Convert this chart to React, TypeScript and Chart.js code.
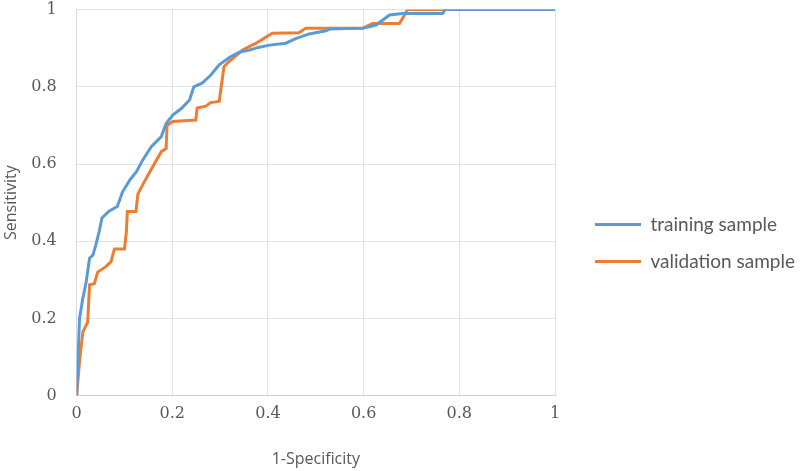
import React, { useEffect, useRef } from "react";
import { Chart, registerables } from "chart.js";

Chart.register(...registerables);

const trainingX = [0, 0.003, 0.006, 0.013, 0.02, 0.027, 0.034, 0.04, 0.047, 0.053, 0.067, 0.085, 0.096, 0.112, 0.125, 0.138, 0.156, 0.177, 0.187, 0.201, 0.22, 0.236, 0.245, 0.263, 0.28, 0.298, 0.319, 0.34, 0.361, 0.38, 0.403, 0.437, 0.458, 0.486, 0.521, 0.53, 0.6, 0.626, 0.654, 0.681, 0.765, 0.77, 1];
const trainingY = [0, 0.1, 0.2, 0.252, 0.295, 0.356, 0.364, 0.39, 0.425, 0.46, 0.477, 0.49, 0.528, 0.56, 0.58, 0.61, 0.645, 0.671, 0.705, 0.727, 0.745, 0.766, 0.8, 0.81, 0.83, 0.857, 0.876, 0.89, 0.895, 0.902, 0.908, 0.913, 0.925, 0.937, 0.945, 0.95, 0.952, 0.96, 0.986, 0.99, 0.99, 1, 1];

const validationX = [0, 0.006, 0.013, 0.023, 0.027, 0.037, 0.044, 0.061, 0.072, 0.079, 0.1, 0.104, 0.106, 0.124, 0.128, 0.138, 0.159, 0.177, 0.187, 0.189, 0.201, 0.249, 0.252, 0.27, 0.28, 0.298, 0.308, 0.319, 0.347, 0.375, 0.409, 0.465, 0.479, 0.598, 0.619, 0.675, 0.692, 1];
const validationY = [0, 0.088, 0.165, 0.19, 0.287, 0.29, 0.32, 0.334, 0.347, 0.38, 0.38, 0.425, 0.477, 0.477, 0.522, 0.546, 0.593, 0.632, 0.64, 0.7, 0.71, 0.714, 0.745, 0.75, 0.759, 0.762, 0.852, 0.866, 0.895, 0.913, 0.939, 0.94, 0.952, 0.952, 0.964, 0.964, 1, 1];

const seriesNames = ["training sample", "validation sample"];
const xTitle = "1-Specificity";
const yTitle = "Sensitivity";

function toPoints(xs: number[], ys: number[]) {
  return xs.map((x, i) => ({ x, y: ys[i] }));
}

const fmt = (v: any) => String(Math.round(Number(v) * 10) / 10);

export default function App() {
  const ref = useRef<HTMLCanvasElement | null>(null);
  useEffect(() => {
    document.body.style.margin = "0";
    if (!ref.current) return;
    const tickFont = { family: "'DejaVu Serif', serif", size: 16 };
    const titleFont = { family: "'Open Sans', sans-serif", size: 16 };
    const chart = new Chart(ref.current, {
      type: "scatter",
      data: {
        datasets: [
          {
            label: seriesNames[0],
            data: toPoints(trainingX, trainingY),
            showLine: true,
            borderColor: "#5B9BD5",
            backgroundColor: "#5B9BD5",
            borderWidth: 3,
            pointRadius: 0,
            tension: 0,
          },
          {
            label: seriesNames[1],
            data: toPoints(validationX, validationY),
            showLine: true,
            borderColor: "#ED7D31",
            backgroundColor: "#ED7D31",
            borderWidth: 3,
            pointRadius: 0,
            tension: 0,
          },
        ],
      },
      options: {
        animation: false,
        responsive: false,
        maintainAspectRatio: false,
        layout: { padding: { top: 0, right: 0, left: 0, bottom: 0 } },
        plugins: {
          tooltip: { enabled: false },
          legend: {
            position: "right",
            align: "center",
            maxWidth: 223,
            title: { display: true, text: "", font: { size: 1 }, padding: 7 },
            labels: {
              usePointStyle: true,
              pointStyle: "line",
              pointStyleWidth: 46,
              boxHeight: 3,
              padding: 18,
              color: "#595959",
              font: { family: "Lato, sans-serif", size: 19 },
            },
          },
        },
        scales: {
          x: {
            type: "linear",
            min: 0,
            max: 1,
            ticks: { stepSize: 0.2, color: "#595959", font: tickFont, padding: 0, callback: fmt },
            grid: { color: "#e3e3e3", drawTicks: true, tickLength: 9, tickColor: "rgba(0,0,0,0)" },
            border: { color: "#d0d0d0" },
            title: { display: true, text: xTitle, color: "#595959", font: titleFont, padding: { top: 26, bottom: 2 } },
          },
          y: {
            type: "linear",
            min: 0,
            max: 1,
            ticks: { stepSize: 0.2, color: "#595959", font: tickFont, padding: 0, callback: fmt },
            grid: { color: "#e3e3e3", drawTicks: true, tickLength: 20, tickColor: "rgba(0,0,0,0)" },
            border: { color: "#d0d8e0" },
            title: { display: true, text: yTitle, color: "#595959", font: titleFont, padding: { top: 2, bottom: 10 } },
          },
          y2: {
            type: "linear",
            position: "right",
            display: true,
            min: 0,
            max: 1,
            ticks: { display: false },
            grid: { display: false, drawOnChartArea: false },
            border: { display: false },
            afterFit: (s: any) => {
              s.width = 22;
            },
          },
        },
      },
    });
    return () => chart.destroy();
  }, []);
  return (
    <div style={{ position: "fixed", left: 0, top: 0, width: 800, height: 471, background: "#fff" }}>
      <canvas ref={ref} width={800} height={471} style={{ width: 800, height: 471 }} />
    </div>
  );
}
